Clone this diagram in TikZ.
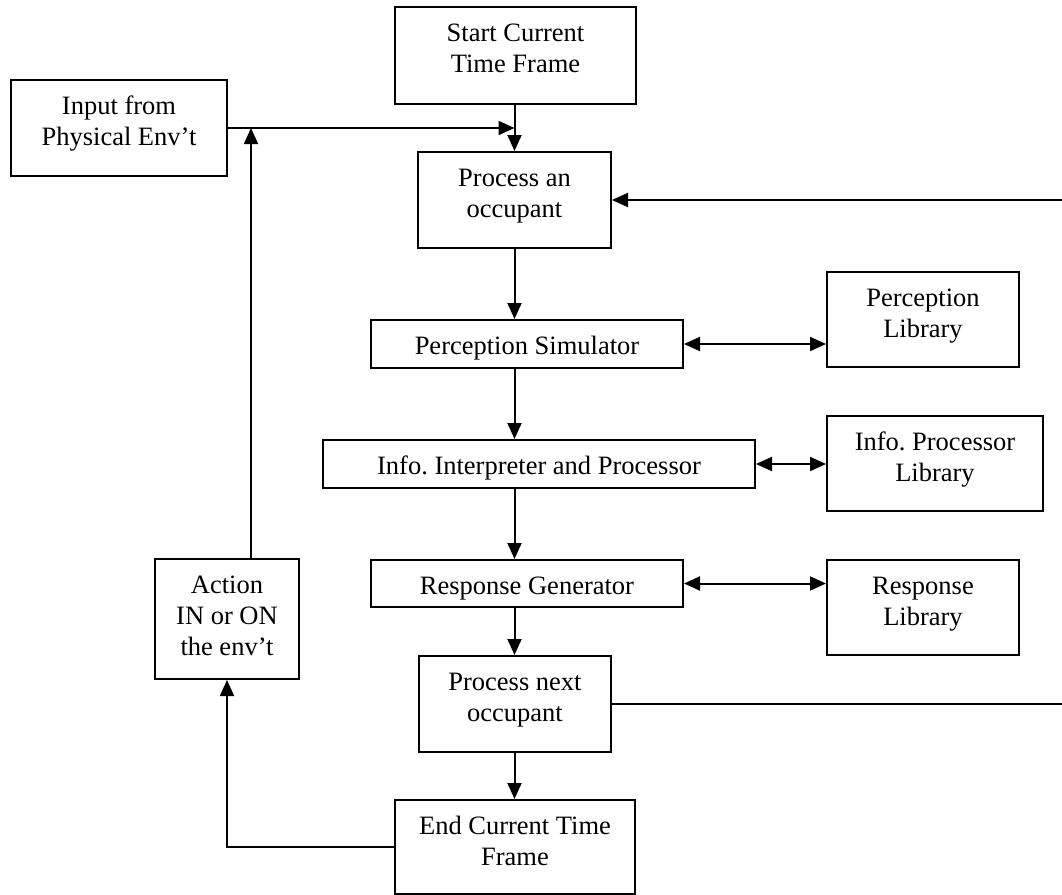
\documentclass[tikz,border=0pt]{standalone}
\usepackage{fontspec}
\setmainfont{Liberation Serif}
\usetikzlibrary{arrows.meta}

% one drawing unit = 0.5pt
\newlength\pxu
\setlength\pxu{0.5pt}
% box contents: width, height (in drawing units), text set from the top
\newcommand\boxtext[3]{%
  \parbox[c][#2\pxu][t]{#1\pxu}{\fontsize{13.25pt}{15.5pt}\selectfont
    \centering\vspace*{6.6pt}\strut#3}}

\tikzset{
  tip/.tip={Triangle[length=8pt,width=7pt]},
  box/.style={draw, rectangle, line width=1pt, inner sep=0pt},
  conn/.style={line width=1pt, -tip},
  biconn/.style={line width=1pt, tip-tip},
  plain/.style={line width=1pt}
}

\begin{document}
\begin{tikzpicture}[x=0.5pt, y=-0.5pt]
  \useasboundingbox (0,0) rectangle (1062,895);

  % main column
  \node[box] (start) at (515.5,55.5) {\boxtext{241}{97}{Start Current\\Time Frame}};
  \node[box] (proc1) at (514.5,200)  {\boxtext{193}{96}{Process an\\occupant}};
  \node[box] (ps)    at (527,344)    {\boxtext{312}{48}{Perception Simulator}};
  \node[box] (iip)   at (539,464)    {\boxtext{432}{48}{Info.\ Interpreter and Processor}};
  \node[box] (rg)    at (527,583.5)  {\boxtext{312}{47}{Response Generator}};
  \node[box] (proc2) at (515,704)    {\boxtext{192}{96}{Process next\\occupant}};
  \node[box] (end)   at (515,847)    {\boxtext{240}{94}{End Current Time\\Frame}};

  % libraries
  \node[box] (pl)  at (923,319.5) {\boxtext{192}{95}{Perception\\Library}};
  \node[box] (ipl) at (935,463.5) {\boxtext{216}{95}{Info.\ Processor\\Library}};
  \node[box] (rl)  at (923,607.5) {\boxtext{192}{95}{Response\\Library}};

  % environment
  \node[box] (input)  at (119,128) {\boxtext{216}{96}{Input from\\Physical Env’t}};
  \node[box] (action) at (227,619) {\boxtext{144}{120}{Action\\IN or ON\\the env’t}};

  % helper points
  \coordinate (join) at (proc1.north |- input.east);
  \coordinate (up) at ([xshift=12pt]action.north);
  \coordinate (edge) at (1062,0);

  % flow down the column
  \draw[conn] (proc1.north |- start.south) -- (proc1.north);
  \draw[conn] (proc1.south) -- (proc1.south |- ps.north);
  \draw[conn] (proc1.south |- ps.south) -- (proc1.south |- iip.north);
  \draw[conn] (proc1.south |- iip.south) -- (proc1.south |- rg.north);
  \draw[conn] (proc1.south |- rg.south) -- (proc1.south |- proc2.north);
  \draw[conn] (proc1.south |- proc2.south) -- (proc1.south |- end.north);

  % library links
  \draw[biconn] (ps.east) -- (ps.east -| pl.west);
  \draw[biconn] (iip.east) -- (iip.east -| ipl.west);
  \draw[biconn] (rg.east) -- (rg.east -| rl.west);

  % environment loop
  \draw[conn] (input.east) -- (join);
  \draw[conn] (end.west) -| (action.south);
  \draw[conn] (up) -- (up |- input.east);

  % next-occupant loop
  \draw[plain] (proc2.east) -- (proc2.east -| edge);
  \draw[conn] (proc1.east -| edge) -- (proc1.east);
\end{tikzpicture}
\end{document}
